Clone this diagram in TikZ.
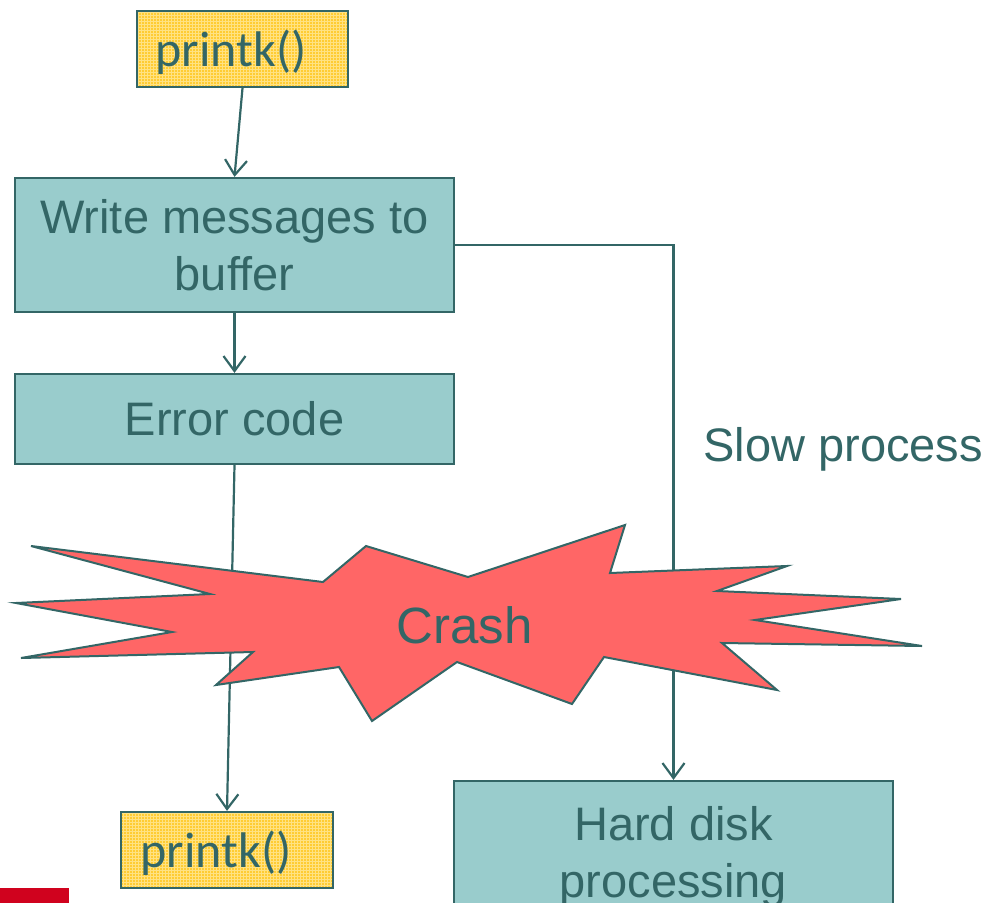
\documentclass[tikz,border=0pt]{standalone}
\usepackage{fontspec}
\setmainfont{Liberation Sans}
\newfontfamily\callfont{Carlito}
\usetikzlibrary{arrows.meta,patterns}

\definecolor{ink}{RGB}{51,102,102}
\definecolor{tealfill}{RGB}{153,204,204}
\definecolor{gold}{RGB}{255,204,51}
\definecolor{goldgrid}{RGB}{255,226,130}
\definecolor{crashred}{RGB}{255,102,102}
\definecolor{barred}{RGB}{208,2,30}

\tikzset{
  every node/.style={text=ink, font=\fontsize{47}{57}\selectfont},
  procbox/.style={draw=ink, line width=2.2pt, fill=tealfill, rectangle,
    inner sep=0pt, align=center},
  callbox/.style={draw=ink, line width=2.2pt, rectangle, inner sep=0pt,
    preaction={fill=gold}, pattern=grid, pattern color=goldgrid},
  calltext/.style={font=\callfont\fontsize{50}{57}\selectfont},
  flow/.style={draw=ink, line width=2.2pt,
    -{Straight Barb[length=15pt,width=22pt,line width=2.2pt]}},
  wire/.style={draw=ink, line width=2.2pt}
}

\begin{document}
\begin{tikzpicture}[x=1pt,y=-1pt]
\useasboundingbox (0,0) rectangle (989,903);
\clip (0,0) rectangle (989,903);

% boxes
\node[callbox, minimum width=211pt, minimum height=76pt] (p1) at (242.5,49) {};
\node[calltext] (p1t) at (231,52) {printk()};
\node[procbox, minimum width=439pt, minimum height=134pt] (write) at (234.5,245)
  {Write messages to\\buffer};
\node[procbox, minimum width=439pt, minimum height=90pt] (err) at (234.5,419) {Error code};
\node[callbox, minimum width=212pt, minimum height=76pt] (p2) at (227,850) {};
\node[calltext] (p2t) at (216,853) {printk()};
\node[procbox, minimum width=439pt, minimum height=152pt] (hdd) at (673.5,857)
  {Hard disk\\processing};

% connectors (drawn under the burst)
\draw[flow] (p1.south) -- (write.north);
\draw[flow] (write.south) -- (err.north);
\draw[flow] (err.south) -- (p2.north);
\draw[flow] (write.east) -| (hdd.north);

\node[anchor=base west] (slow) at (700,461) {Slow process};

% crash burst
\draw[draw=ink, line width=2pt, fill=crashred, line join=miter]
  (31,546) -- (323,582) -- (366,546) -- (468,577) -- (625,525) -- (610,573)
  -- (787,566) -- (717,591) -- (901,599) -- (755,620) -- (922,646)
  -- (722,643) -- (777,690) -- (604,657) -- (572,704) -- (457,662)
  -- (372,721) -- (339,667) -- (216,685) -- (253,652) -- (21,658)
  -- (172,632) -- (16,603) -- (210,594) -- cycle;
\node[anchor=base west, font=\fontsize{51}{60}\selectfont] (crash) at (393,643) {Crash};

% red marker bar
\fill[barred] (0,888) rectangle (69,903);
\end{tikzpicture}
\end{document}
